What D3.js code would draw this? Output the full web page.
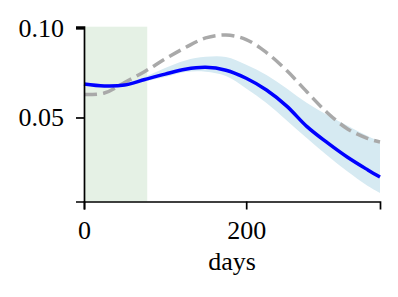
<!DOCTYPE html>
<html>
<head>
<meta charset="utf-8">
<script src="https://cdn.jsdelivr.net/npm/d3@7"></script>
<style>
  body { margin: 0; background: #fff; }
  text { font-family: "Liberation Serif", "DejaVu Serif", serif; }
</style>
</head>
<body>
<svg width="398" height="297"></svg>
<script>
// data
var days = [0, 25, 50, 75, 100, 125, 150, 175, 200, 225, 250, 275, 300, 325, 350, 365];
var meanVals = [0.0688, 0.0677, 0.0682, 0.0713, 0.0743, 0.0770, 0.0781, 0.0765, 0.0720, 0.0654, 0.0564, 0.0449, 0.0359, 0.0277, 0.0206, 0.0166];
var upperVals = [0.0693, 0.0682, 0.0691, 0.0727, 0.0777, 0.0820, 0.0840, 0.0839, 0.0796, 0.0738, 0.0663, 0.0581, 0.0514, 0.0454, 0.0396, 0.0363];
var lowerVals = [0.0682, 0.0671, 0.0674, 0.0702, 0.0727, 0.0755, 0.0757, 0.0733, 0.0663, 0.0581, 0.0483, 0.0383, 0.0287, 0.0197, 0.0116, 0.0077];
var refVals = [0.0629, 0.0637, 0.0696, 0.0758, 0.0828, 0.0892, 0.0946, 0.0962, 0.0937, 0.0864, 0.0763, 0.0643, 0.0527, 0.0436, 0.0382, 0.0363];
var spanDays = [0, 78];
var xTicks = [0, 200];
var yTicks = [0.05, 0.10];

var svg = d3.select("svg");
var x = d3.scaleLinear().domain([0, 365]).range([84, 380]);
var y = d3.scaleLinear().domain([0.0029, 0.1009]).range([201.5, 26.7]);
var smooth = d3.curveCatmullRom.alpha(0.5);

var pts = days.map(function (d, i) {
  return { d: d, m: meanVals[i], hi: upperVals[i], lo: lowerVals[i], r: refVals[i] };
});

// shaded period
svg.append("rect")
  .attr("x", x(spanDays[0]))
  .attr("width", x(spanDays[1]) - x(spanDays[0]))
  .attr("y", y.range()[1])
  .attr("height", y.range()[0] - y.range()[1])
  .attr("fill", "#e5f1e5");

// uncertainty band
var band = d3.area()
  .x(function (p) { return x(p.d); })
  .y0(function (p) { return y(p.lo); })
  .y1(function (p) { return y(p.hi); })
  .curve(smooth);
svg.append("path").datum(pts)
  .attr("d", band)
  .attr("fill", "#d6eaf2");

var refLine = d3.line()
  .x(function (p) { return x(p.d); })
  .y(function (p) { return y(p.r); })
  .curve(smooth);
svg.append("path").datum(pts)
  .attr("d", refLine)
  .attr("fill", "none")
  .attr("stroke", "#a9a9a9")
  .attr("stroke-width", 3.5)
  .attr("stroke-dasharray", "13,6");

var meanLine = d3.line()
  .x(function (p) { return x(p.d); })
  .y(function (p) { return y(p.m); })
  .curve(smooth);
svg.append("path").datum(pts)
  .attr("d", meanLine)
  .attr("fill", "none")
  .attr("stroke", "#0000ff")
  .attr("stroke-width", 3.5);

// axes
var xAxis = svg.append("g")
  .attr("transform", "translate(0," + y.range()[0] + ")")
  .call(d3.axisBottom(x).tickValues(xTicks).tickFormat(d3.format("d")).tickSizeOuter(0).tickSize(8).tickPadding(11));
var yAxis = svg.append("g")
  .attr("transform", "translate(" + x.range()[0] + ",0)")
  .call(d3.axisLeft(y).tickValues(yTicks).tickFormat(d3.format(".2f")).tickSizeOuter(0).tickSize(8).tickPadding(12));

[xAxis, yAxis].forEach(function (a) {
  a.select(".domain").attr("stroke", "#000").attr("stroke-width", 1.7);
  a.selectAll(".tick line").attr("stroke", "#000").attr("stroke-width", 1.7);
  a.selectAll(".tick text").attr("fill", "#000").style("font-size", "26px")
    .style("font-family", "'Liberation Serif', serif");
});

svg.append("text")
  .attr("x", (x.range()[0] + x.range()[1]) / 2)
  .attr("y", 270)
  .attr("text-anchor", "middle")
  .style("font-size", "26px")
  .text("days");
</script>
</body>
</html>
